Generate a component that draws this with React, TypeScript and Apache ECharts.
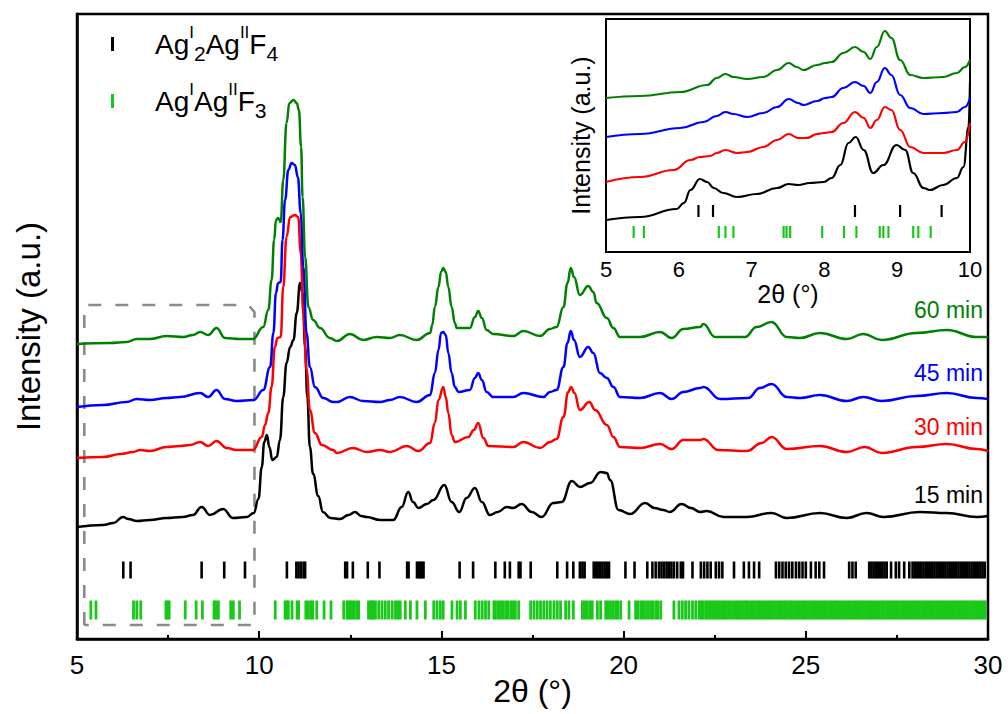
import React, { useEffect, useRef } from "react";
import * as echarts from "echarts";

const FONT = '"Liberation Sans", Arial, Helvetica, sans-serif';

// ---------- main pattern data: [2θ (°), intensity (a.u., offset stacked)] ----------
const curve15min: number[][] = [
  [5.0, 112], [5.72, 114], [6.0, 116], [6.26, 122], [6.41, 120], [6.64, 118], [7.0, 119], [7.46, 121], [7.9, 122],
  [8.18, 124], [8.42, 132], [8.65, 124], [9.01, 130], [9.28, 121], [9.66, 122], [9.85, 126], [9.98, 140], [10.07, 172],
  [10.14, 197], [10.21, 204], [10.28, 192], [10.36, 179], [10.48, 182], [10.57, 199], [10.66, 242], [10.75, 276],
  [10.85, 292], [10.94, 299], [11.03, 326], [11.12, 356], [11.19, 346], [11.26, 292], [11.32, 242], [11.39, 192],
  [11.48, 165], [11.62, 143], [11.75, 127], [11.95, 121], [12.22, 120], [12.45, 124], [12.63, 127], [12.8, 123],
  [12.95, 122], [13.32, 119], [13.68, 119], [13.91, 132], [14.09, 147], [14.22, 137], [14.37, 131], [14.6, 135],
  [14.78, 139], [15.08, 154], [15.28, 137], [15.49, 127], [15.69, 141], [15.92, 151], [16.11, 137], [16.33, 124],
  [16.55, 127], [16.79, 132], [16.97, 131], [17.2, 135], [17.48, 127], [17.75, 122], [18.07, 136], [18.3, 137],
  [18.58, 158], [18.8, 152], [19.08, 156], [19.37, 167], [19.54, 166], [19.63, 159], [19.86, 129], [20.18, 125],
  [20.59, 136], [20.85, 131], [21.09, 129], [21.27, 127], [21.59, 135], [21.85, 131], [22.1, 127], [22.28, 128],
  [22.74, 122], [23.38, 122], [24.06, 126], [24.48, 121], [25.39, 126], [26.12, 121], [26.67, 126], [27.13, 122],
  [28.13, 127], [28.87, 126], [29.69, 122], [30.0, 123],
];

const curve30min: number[][] = [
  [5.0, 181], [5.72, 182], [6.2, 185], [6.54, 187], [6.73, 189], [7.0, 188], [7.46, 192], [7.83, 193], [8.1, 194],
  [8.38, 197], [8.6, 193], [8.83, 198], [9.11, 191], [9.38, 189], [9.83, 189], [10.07, 202], [10.16, 214], [10.25, 226],
  [10.34, 252], [10.43, 292], [10.5, 301], [10.59, 302], [10.66, 352], [10.75, 402], [10.85, 422], [10.98, 424],
  [11.07, 422], [11.14, 386], [11.21, 326], [11.3, 269], [11.39, 229], [11.53, 206], [11.72, 194], [12.03, 189],
  [12.13, 186], [12.57, 191], [12.95, 187], [13.32, 189], [13.59, 187], [14.05, 193], [14.37, 188], [14.69, 196],
  [14.82, 216], [14.92, 239], [15.05, 252], [15.12, 242], [15.19, 226], [15.28, 204], [15.37, 197], [15.74, 202],
  [15.89, 209], [16.01, 216], [16.15, 201], [16.29, 193], [16.97, 192], [17.25, 197], [17.71, 191], [17.98, 197],
  [18.16, 200], [18.35, 222], [18.48, 247], [18.56, 252], [18.65, 246], [18.8, 229], [19.06, 237], [19.22, 229],
  [19.54, 214], [19.72, 202], [19.9, 192], [20.45, 191], [21.0, 195], [21.32, 190], [21.64, 199], [22.1, 199],
  [22.19, 200], [22.6, 189], [23.38, 188], [23.79, 196], [24.06, 202], [24.48, 190], [25.39, 193], [26.12, 187],
  [26.62, 192], [27.08, 186], [28.04, 192], [28.87, 195], [29.69, 190], [30.0, 188],
];

const curve45min: number[][] = [
  [5.0, 232], [5.72, 234], [6.36, 237], [6.64, 240], [7.0, 239], [7.46, 241], [7.83, 242], [8.38, 246], [8.6, 242],
  [8.83, 249], [9.06, 240], [9.38, 238], [9.85, 239], [10.11, 249], [10.3, 272], [10.39, 306], [10.46, 346],
  [10.52, 356], [10.59, 357], [10.64, 399], [10.71, 439], [10.8, 469], [10.89, 476], [10.98, 474], [11.06, 462],
  [11.14, 426], [11.21, 372], [11.3, 306], [11.39, 272], [11.53, 252], [11.76, 241], [12.03, 237], [12.13, 237],
  [12.49, 242], [12.85, 238], [13.32, 237], [13.59, 239], [13.86, 242], [14.32, 237], [14.69, 244], [14.82, 266],
  [14.92, 289], [14.99, 306], [15.05, 307], [15.12, 304], [15.19, 286], [15.28, 266], [15.37, 252], [15.47, 247],
  [15.78, 249], [15.92, 261], [16.01, 266], [16.11, 259], [16.24, 247], [16.42, 242], [16.97, 242], [17.25, 246],
  [17.8, 242], [17.98, 247], [18.16, 249], [18.35, 272], [18.46, 296], [18.55, 308], [18.64, 299], [18.8, 282],
  [19.03, 292], [19.17, 286], [19.35, 266], [19.54, 261], [19.72, 252], [19.9, 242], [20.45, 241], [21.0, 246],
  [21.32, 240], [21.64, 247], [22.1, 251], [22.19, 252], [22.65, 240], [23.42, 241], [23.74, 251], [24.06, 255],
  [24.48, 242], [24.84, 241], [25.39, 244], [26.12, 238], [26.58, 242], [27.08, 238], [28.04, 243], [28.87, 246],
  [29.69, 241], [30.0, 240],
];

const curve60min: number[][] = [
  [5.0, 295], [5.91, 296], [6.36, 297], [6.64, 300], [7.0, 300], [7.46, 303], [7.92, 302], [8.18, 304], [8.38, 307],
  [8.6, 304], [8.83, 311], [9.06, 301], [9.47, 300], [9.83, 300], [10.11, 312], [10.25, 329], [10.34, 359],
  [10.41, 399], [10.46, 419], [10.52, 421], [10.59, 417], [10.66, 459], [10.75, 516], [10.83, 536], [10.94, 539],
  [11.03, 536], [11.09, 529], [11.15, 492], [11.19, 442], [11.26, 382], [11.35, 332], [11.48, 319], [11.67, 311],
  [11.94, 301], [12.13, 298], [12.49, 305], [12.85, 299], [13.22, 302], [13.59, 301], [13.86, 304], [14.32, 299],
  [14.69, 306], [14.75, 314], [14.82, 332], [14.92, 352], [14.99, 367], [15.05, 371], [15.12, 367], [15.19, 352],
  [15.28, 332], [15.37, 316], [15.42, 311], [15.78, 311], [15.92, 322], [16.01, 328], [16.11, 321], [16.24, 309],
  [16.42, 305], [16.97, 303], [17.25, 308], [17.71, 303], [17.98, 310], [18.16, 312], [18.35, 332], [18.46, 356],
  [18.55, 371], [18.64, 362], [18.8, 344], [19.03, 353], [19.17, 347], [19.26, 336], [19.54, 321], [19.72, 311],
  [19.9, 302], [20.45, 302], [21.0, 307], [21.32, 301], [21.64, 310], [22.1, 312], [22.19, 315], [22.51, 302],
  [23.33, 302], [23.65, 312], [24.06, 317], [24.48, 302], [24.84, 301], [25.39, 306], [26.12, 300], [26.58, 305],
  [27.08, 299], [28.04, 306], [28.87, 309], [29.69, 302], [30.0, 302],
];

// ---------- reference reflection positions (2θ, °) ----------
const ag3f4Ticks: number[] = [
  6.27, 6.47, 8.42, 9.04, 9.61, 10.76, 11.02, 11.08, 11.15, 11.22, 11.26, 12.36, 12.41, 12.57, 12.98, 13.3, 14.06, 14.1,
  14.33, 14.38, 14.42, 14.47, 14.51, 15.5, 15.87, 16.48, 16.74, 16.88, 17.12, 17.17, 17.45, 18.18, 18.45, 18.62, 18.8,
  18.87, 18.93, 19.18, 19.24, 19.3, 19.36, 19.42, 19.48, 19.54, 19.6, 20.05, 20.3, 20.65, 20.79, 20.88, 20.97, 21.04,
  21.11, 21.18, 21.24, 21.31, 21.38, 21.47, 21.57, 21.63, 21.89, 22.12, 22.21, 22.3, 22.39, 22.53, 22.62, 22.71, 23.03,
  23.3, 23.44, 23.58, 23.72, 24.18, 24.27, 24.36, 24.45, 24.54, 24.63, 24.73, 24.82, 24.91, 25.0, 25.14, 25.27, 25.37,
  25.5, 26.19, 26.28, 26.37, 26.74, 26.8, 26.86, 26.92, 26.98, 27.04, 27.1, 27.16, 27.22, 27.34, 27.47, 27.56, 27.7,
  27.84, 27.93, 27.99, 28.05, 28.11, 28.17, 28.23, 28.29, 28.35, 28.41, 28.47, 28.53, 28.59, 28.65, 28.71, 28.77,
  28.83, 28.89, 28.95, 29.01, 29.07, 29.13, 29.19, 29.25, 29.31, 29.37, 29.43, 29.49, 29.55, 29.61, 29.67, 29.73,
  29.79, 29.85, 29.91,
];

const ag2f3Ticks: number[] = [
  5.38, 5.52, 6.55, 6.64, 6.75, 7.44, 7.48, 7.53, 7.97, 8.27, 8.44, 8.76, 8.81, 8.88, 9.22, 9.29, 9.46, 10.44, 10.71,
  10.76, 10.8, 10.9, 11.04, 11.08, 11.28, 11.35, 11.42, 11.47, 11.58, 11.78, 11.97, 12.32, 12.41, 12.45, 12.5, 12.55,
  12.61, 12.68, 12.73, 13.0, 13.05, 13.1, 13.14, 13.19, 13.28, 13.37, 13.46, 13.55, 13.65, 13.74, 13.8, 13.87, 14.01,
  14.15, 14.33, 14.56, 14.79, 14.88, 14.97, 15.05, 15.29, 15.43, 15.52, 15.66, 15.93, 16.03, 16.12, 16.21, 16.3,
  16.44, 16.48, 16.55, 16.62, 16.68, 16.76, 16.82, 16.9, 16.96, 17.03, 17.12, 17.45, 17.54, 17.63, 17.72, 17.81, 17.9,
  17.99, 18.09, 18.18, 18.27, 18.41, 18.5, 18.62, 18.87, 18.93, 19.0, 19.07, 19.14, 19.28, 19.37, 19.51, 19.57, 19.64,
  19.71, 19.78, 19.84, 19.92, 20.15, 20.33, 20.39, 20.47, 20.53, 20.6, 20.67, 20.74, 20.8, 20.88, 20.94, 21.02, 21.38,
  21.52, 21.61, 21.7, 21.79, 21.89, 21.98, 22.07, 22.13, 22.18, 22.25, 22.3, 22.36, 22.42, 22.47, 22.53, 22.59, 22.64,
  22.71, 22.76, 22.82, 22.88, 22.93, 22.99, 23.06, 23.12, 23.17, 23.23, 23.29, 23.35, 23.4, 23.46, 23.53, 23.59,
  23.65, 23.71, 23.76, 23.82, 23.88, 23.94, 24.0, 24.05, 24.11, 24.17, 24.23, 24.29, 24.34, 24.41, 24.46, 24.52,
  24.58, 24.63, 24.69, 24.75, 24.81, 24.87, 24.93, 24.98, 25.04, 25.1, 25.16, 25.22, 25.27, 25.33, 25.39, 25.45,
  25.51, 25.56, 25.62, 25.68, 25.74, 25.8, 25.85, 25.91, 25.97, 26.03, 26.09, 26.15, 26.2, 26.26, 26.32, 26.38,
  26.44, 26.49, 26.55, 26.61, 26.67, 26.73, 26.78, 26.84, 26.9, 26.96, 27.02, 27.08, 27.13, 27.19, 27.25, 27.31,
  27.37, 27.42, 27.48, 27.54, 27.6, 27.66, 27.72, 27.77, 27.83, 27.89, 27.95, 28.01, 28.06, 28.12, 28.18, 28.24,
  28.3, 28.35, 28.41, 28.47, 28.53, 28.59, 28.65, 28.7, 28.76, 28.82, 28.88, 28.94, 28.99, 29.05, 29.11, 29.17,
  29.23, 29.28, 29.34, 29.4, 29.46, 29.52, 29.58, 29.63, 29.69, 29.75, 29.81, 29.87, 29.93,
];

// dashed frame marking the zoomed 5–10° region: [2θ, intensity]
const zoomFrame: number[][] = [
  [5.2, 14], [5.2, 334], [9.7, 334], [9.87, 327], [9.87, 14], [5.2, 14],
];

// ---------- inset (5–10°) data ----------
const inset15min: number[][] = [
  [5.0, 32], [5.47, 35], [5.97, 43], [6.07, 49], [6.16, 62], [6.29, 73], [6.39, 70], [6.48, 64], [6.61, 59],
  [6.8, 55], [7.07, 58], [7.35, 64], [7.51, 68], [7.64, 67], [7.8, 69], [7.99, 70], [8.1, 74], [8.22, 87],
  [8.33, 109], [8.43, 115], [8.54, 102], [8.67, 79], [8.81, 87], [8.99, 107], [9.11, 102], [9.22, 79], [9.36, 64],
  [9.45, 62], [9.63, 67], [9.82, 74], [9.91, 85], [9.98, 125], [10.0, 170],
];
const inset30min: number[][] = [
  [5.0, 70], [5.47, 75], [5.93, 82], [6.16, 92], [6.29, 95], [6.43, 96], [6.52, 99], [6.64, 102], [6.8, 99],
  [6.94, 100], [7.16, 105], [7.35, 112], [7.51, 118], [7.64, 114], [7.76, 114], [7.9, 118], [7.99, 119], [8.1, 120],
  [8.26, 129], [8.42, 140], [8.54, 134], [8.63, 124], [8.72, 132], [8.83, 145], [8.92, 142], [9.04, 122],
  [9.18, 105], [9.36, 99], [9.63, 99], [9.82, 102], [9.93, 110], [10.0, 129],
];
const inset45min: number[][] = [
  [5.0, 115], [5.47, 118], [6.02, 124], [6.34, 130], [6.52, 136], [6.64, 140], [6.75, 138], [6.94, 135], [7.16, 139],
  [7.35, 145], [7.51, 153], [7.64, 149], [7.71, 147], [7.9, 151], [8.01, 154], [8.1, 155], [8.26, 164], [8.42, 170],
  [8.54, 166], [8.63, 159], [8.72, 170], [8.83, 184], [8.92, 177], [9.04, 157], [9.18, 144], [9.36, 138],
  [9.63, 139], [9.82, 140], [9.93, 145], [10.0, 154],
];
const inset60min: number[][] = [
  [5.0, 154], [5.47, 156], [6.02, 160], [6.39, 167], [6.52, 174], [6.64, 178], [6.75, 175], [6.94, 173], [7.16, 175],
  [7.35, 182], [7.51, 189], [7.62, 185], [7.71, 182], [7.9, 187], [8.01, 189], [8.1, 190], [8.26, 199], [8.42, 205],
  [8.54, 200], [8.63, 193], [8.72, 205], [8.83, 221], [8.92, 214], [9.04, 192], [9.18, 177], [9.36, 174],
  [9.63, 175], [9.82, 179], [9.93, 185], [10.0, 192],
];

const seriesNames = ["15 min", "30 min", "45 min", "60 min"];
const seriesColors = ["#000000", "#ff0000", "#0000ff", "#008000"];
const mainCurves = [curve15min, curve30min, curve45min, curve60min];
const insetCurves = [inset15min, inset30min, inset45min, inset60min];
const labelOffsets = [-21, -24, -26, -27];

const TICK_GREEN = "#19c819";
const AG3F4 = "Ag2AgF4";
const AG2F3 = "AgAgF3";

export default function App() {
  const ref = useRef<HTMLDivElement>(null);

  useEffect(() => {
    if (!ref.current) return;
    const chart = echarts.init(ref.current, undefined, { renderer: "svg" });

    const mainLines = mainCurves.map((d, i) => ({
      name: seriesNames[i],
      type: "line",
      xAxisIndex: 0,
      yAxisIndex: 0,
      data: d,
      smooth: 0.45,
      smoothMonotone: "x",
      showSymbol: false,
      symbol: "none",
      silent: true,
      lineStyle: { color: seriesColors[i], width: 2.5 },
      itemStyle: { color: seriesColors[i] },
      endLabel: {
        show: true,
        formatter: seriesNames[i],
        color: seriesColors[i],
        fontSize: 23,
        fontFamily: FONT,
        align: "right",
        verticalAlign: "middle",
        offset: [-13, labelOffsets[i]],
      },
      z: 3 + i,
    }));

    const insetLines = insetCurves.map((d, i) => ({
      name: "inset " + seriesNames[i],
      type: "line",
      xAxisIndex: 1,
      yAxisIndex: 1,
      data: d,
      smooth: 0.45,
      smoothMonotone: "x",
      showSymbol: false,
      symbol: "none",
      silent: true,
      lineStyle: { color: seriesColors[i], width: 2.2 },
      itemStyle: { color: seriesColors[i] },
      z: 3 + i,
    }));

    const tickSeries = (name: string, xs: number[], level: number, color: string, w: number, h: number, xi: number) => ({
      name,
      type: "scatter",
      xAxisIndex: xi,
      yAxisIndex: xi,
      data: xs.map((x) => [x, level]),
      symbol: "rect",
      symbolSize: [w, h],
      silent: true,
      itemStyle: { color, opacity: 1 },
      z: 2,
    });

    const option: any = {
      animation: false,
      backgroundColor: "#ffffff",
      textStyle: { fontFamily: FONT },
      legend: {
        data: [AG3F4, AG2F3],
        orient: "vertical",
        left: 106,
        top: 19,
        icon: "rect",
        itemWidth: 3,
        itemHeight: 14,
        itemGap: 17,
        selectedMode: false,
        formatter: (name: string) =>
          name === AG3F4
            ? "{n|Ag}{sup|I}{sub|2}{n|Ag}{sup|II}{n|F}{sub|4}"
            : "{n|Ag}{sup|I}{n|Ag}{sup|II}{n|F}{sub|3}",
        textStyle: {
          padding: [0, 0, 0, 36],
          color: "#000",
          rich: {
            n: { fontSize: 28, fontFamily: FONT, color: "#000", lineHeight: 40, verticalAlign: "middle" },
            sup: { fontSize: 17, fontFamily: FONT, color: "#000", lineHeight: 24, verticalAlign: "top" },
            sub: { fontSize: 21, fontFamily: FONT, color: "#000", lineHeight: 22, verticalAlign: "bottom" },
          },
        },
      },
      grid: [
        {
          left: 77, right: 20, top: 14, bottom: 75, show: true, borderColor: "#000", borderWidth: 2.5,
          outerBoundsMode: "none", containLabel: false,
        },
        {
          left: 606, top: 19, width: 364, height: 233, show: true, borderColor: "#000", borderWidth: 2,
          backgroundColor: "#ffffff", z: 1, outerBoundsMode: "none", containLabel: false,
        },
      ],
      xAxis: [
        {
          gridIndex: 0, type: "value", min: 5, max: 30, interval: 5,
          axisLine: { show: true, lineStyle: { color: "#000", width: 2.5 } },
          axisTick: { show: true, inside: true, length: 8, lineStyle: { color: "#000", width: 2 } },
          minorTick: { show: true, splitNumber: 2, length: 4, lineStyle: { color: "#000", width: 2 } },
          axisLabel: { fontSize: 26, color: "#000", margin: 13, fontFamily: FONT },
          splitLine: { show: false },
          minorSplitLine: { show: false },
          name: "2θ (°)", nameLocation: "middle", nameGap: 36, nameMoveOverlap: false,
          nameTextStyle: { fontSize: 32, lineHeight: 32, color: "#000", fontFamily: FONT },
        },
        {
          gridIndex: 1, type: "value", min: 5, max: 10, interval: 1,
          axisLine: { show: true, lineStyle: { color: "#000", width: 2 } },
          axisTick: { show: true, inside: true, length: 5, lineStyle: { color: "#000", width: 1.5 } },
          minorTick: { show: true, splitNumber: 2, length: 3, lineStyle: { color: "#000", width: 1.5 } },
          axisLabel: { fontSize: 22, color: "#000", margin: 6, fontFamily: FONT },
          splitLine: { show: false },
          minorSplitLine: { show: false },
          name: "2θ (°)", nameLocation: "middle", nameGap: 29,
          nameTextStyle: { fontSize: 25, color: "#000", fontFamily: FONT },
        },
      ],
      yAxis: [
        {
          gridIndex: 0, type: "value", min: 0, max: 625,
          axisLine: { show: true, lineStyle: { color: "#000", width: 2.5 } },
          axisTick: { show: false }, axisLabel: { show: false }, splitLine: { show: false },
          name: "Intensity (a.u.)", nameLocation: "middle", nameGap: 32,
          nameTextStyle: { fontSize: 33, color: "#000", fontFamily: FONT },
        },
        {
          gridIndex: 1, type: "value", min: 0, max: 233,
          axisLine: { show: true, lineStyle: { color: "#000", width: 2 } },
          axisTick: { show: false }, axisLabel: { show: false }, splitLine: { show: false },
          name: "Intensity (a.u.)", nameLocation: "middle", nameGap: 13,
          nameTextStyle: { fontSize: 25, color: "#000", fontFamily: FONT },
        },
      ],
      series: [
        {
          name: "zoom frame",
          type: "line",
          xAxisIndex: 0,
          yAxisIndex: 0,
          data: zoomFrame,
          showSymbol: false,
          symbol: "none",
          silent: true,
          lineStyle: { color: "#8a8a8a", width: 2.6, type: [13, 14] },
          z: 1,
        },
        tickSeries(AG3F4, ag3f4Ticks, 69, "#000000", 2.6, 17, 0),
        tickSeries(AG2F3, ag2f3Ticks, 29, TICK_GREEN, 2.8, 19, 0),
        tickSeries("inset Ag2AgF4", ag3f4Ticks.filter((x) => x <= 10), 41, "#000000", 2.2, 12, 1),
        tickSeries("inset AgAgF3", ag2f3Ticks.filter((x) => x <= 10), 20, TICK_GREEN, 2.2, 12, 1),
        ...mainLines,
        ...insetLines,
      ],
    };

    chart.setOption(option);
    return () => chart.dispose();
  }, []);

  return (
    <div
      ref={ref}
      style={{ position: "fixed", left: 0, top: 0, width: 1008, height: 714, background: "#fff" }}
    />
  );
}
